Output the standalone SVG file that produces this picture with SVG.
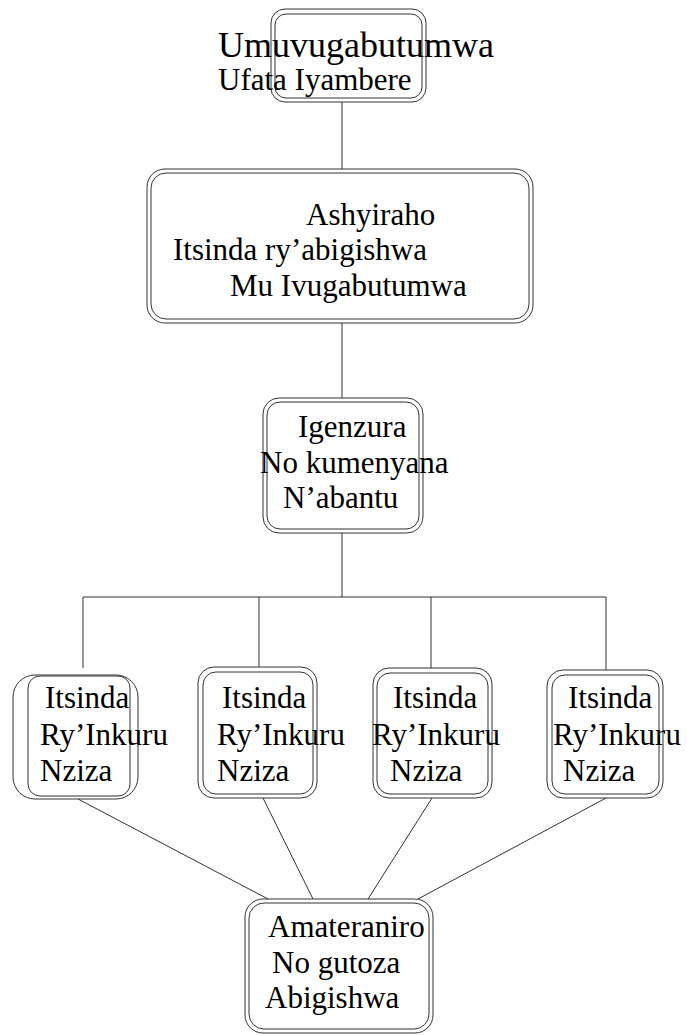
<svg xmlns="http://www.w3.org/2000/svg" width="687" height="1035" viewBox="0 0 687 1035">
  <style>
    .frame { fill: none; stroke: #333; stroke-width: 1; }
    .link { fill: none; stroke: #333; stroke-width: 1; }
    .t { font-family: "Liberation Serif", "Times New Roman", serif; font-size: 31px; fill: #000; }
  </style>
  <rect width="687" height="1035" fill="#fff"/>

  <!-- connectors -->
  <g id="connectors">
    <line class="link" x1="342" y1="102" x2="342" y2="169"/>
    <line class="link" x1="342" y1="323" x2="342" y2="398"/>
    <line class="link" x1="342" y1="533" x2="342" y2="597"/>
    <line class="link" x1="83" y1="597" x2="606" y2="597"/>
    <line class="link" x1="83" y1="597" x2="83" y2="668"/>
    <line class="link" x1="259" y1="597" x2="259" y2="667"/>
    <line class="link" x1="431" y1="597" x2="431" y2="668"/>
    <line class="link" x1="606" y1="597" x2="606" y2="670"/>
    <line class="link" x1="78" y1="799" x2="268" y2="899"/>
    <line class="link" x1="263" y1="798" x2="313" y2="899"/>
    <line class="link" x1="432" y1="798" x2="368" y2="899"/>
    <line class="link" x1="606" y1="798" x2="418" y2="899"/>
  </g>

  <!-- top node -->
  <g id="node-umuvugabutumwa">
    <rect class="frame" x="271" y="9" width="155" height="93" rx="14"/>
    <rect class="frame" x="275" y="14" width="147" height="84" rx="11"/>
    <text class="t" x="218" y="57" style="font-size:36px">Umuvugabutumwa</text>
    <text class="t" x="218" y="90">Ufata Iyambere</text>
  </g>

  <g id="node-ashyiraho">
    <rect class="frame" x="147" y="169" width="386" height="154" rx="18"/>
    <rect class="frame" x="151" y="173" width="378" height="146" rx="15"/>
    <text class="t" x="306" y="225">Ashyiraho</text>
    <text class="t" x="173" y="260">Itsinda ry’abigishwa</text>
    <text class="t" x="230" y="296">Mu Ivugabutumwa</text>
  </g>

  <g id="node-igenzura">
    <rect class="frame" x="263" y="398" width="160" height="135" rx="16"/>
    <rect class="frame" x="267" y="402" width="152" height="127" rx="13"/>
    <text class="t" x="298" y="437">Igenzura</text>
    <text class="t" x="260" y="473">No kumenyana</text>
    <text class="t" x="283" y="508">N’abantu</text>
  </g>

  <g id="node-itsinda-1">
    <rect class="frame" x="13" y="675" width="125" height="124" rx="22"/>
    <rect class="frame" x="28" y="676" width="102" height="120" rx="12"/>
    <text class="t" x="45" y="708">Itsinda</text>
    <text class="t" x="40" y="745">Ry’Inkuru</text>
    <text class="t" x="40" y="781">Nziza</text>
  </g>

  <g id="node-itsinda-2">
    <rect class="frame" x="198" y="667" width="119" height="131" rx="16"/>
    <rect class="frame" x="203" y="672" width="110" height="122" rx="13"/>
    <text class="t" x="222" y="708">Itsinda</text>
    <text class="t" x="217" y="745">Ry’Inkuru</text>
    <text class="t" x="217" y="781">Nziza</text>
  </g>

  <g id="node-itsinda-3">
    <rect class="frame" x="373" y="668" width="119" height="130" rx="16"/>
    <rect class="frame" x="377" y="673" width="111" height="121" rx="13"/>
    <text class="t" x="393" y="708">Itsinda</text>
    <text class="t" x="372" y="745">Ry’Inkuru</text>
    <text class="t" x="390" y="781">Nziza</text>
  </g>

  <g id="node-itsinda-4">
    <rect class="frame" x="547" y="670" width="116" height="128" rx="16"/>
    <rect class="frame" x="552" y="675" width="107" height="119" rx="13"/>
    <text class="t" x="568" y="708">Itsinda</text>
    <text class="t" x="553" y="745">Ry’Inkuru</text>
    <text class="t" x="563" y="781">Nziza</text>
  </g>

  <g id="node-amateraniro">
    <rect class="frame" x="245" y="899" width="188" height="134" rx="18"/>
    <rect class="frame" x="249" y="903" width="180" height="126" rx="15"/>
    <text class="t" x="268" y="937">Amateraniro</text>
    <text class="t" x="272" y="973">No gutoza</text>
    <text class="t" x="265" y="1008">Abigishwa</text>
  </g>
</svg>
